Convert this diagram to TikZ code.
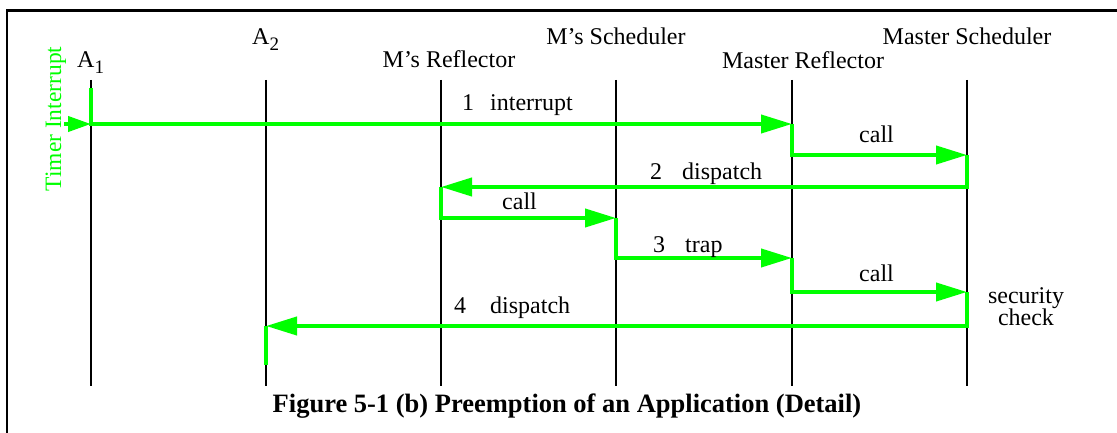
\documentclass[tikz,border=0pt]{standalone}
\usepackage{fontspec}
\setmainfont{Liberation Serif}
\usetikzlibrary{arrows.meta}
\definecolor{msggreen}{RGB}{0,255,0}
\tikzset{
  lbl/.style={inner sep=0pt, anchor=base, font=\fontsize{24}{26}\selectfont},
  lblw/.style={lbl, anchor=base west},
  lifeline/.style={draw=black, line width=2pt},
  msg/.style={draw=msggreen, line width=4pt, line join=miter,
    -{Triangle[length=31pt,width=18pt]}},
  msgplain/.style={draw=msggreen, line width=4pt},
}
\newcommand{\subone}[1]{\raisebox{-6pt}{\fontsize{19}{20}\selectfont #1}}
\begin{document}
\begin{tikzpicture}[x=1pt,y=-1pt]
  \useasboundingbox (0,0) rectangle (1117,433);
  % open frame: only the top and left edges lie inside the page
  \draw[line width=2.5pt] (7.2,440) -- (7.2,10.5) -- (1125,10.5);

  % lifeline positions
  \foreach \n/\x in {a1/91,a2/266,mr/441,ms/616,xr/792,xs/967}{
    \coordinate (\n-top) at (\x,80);
    \coordinate (\n-bot) at (\x,386);
    \draw[lifeline] (\n-top) -- (\n-bot);
  }

  % lifeline titles
  \node[lblw] (t-a1) at (77,68) {A\subone{1}};
  \node[lblw] (t-a2) at (252,45) {A\subone{2}};
  \node[lbl] (t-mr) at (449,68) {M’s Reflector};
  \node[lbl] (t-ms) at (616,45) {M’s Scheduler};
  \node[lbl] (t-xr) at (803,69) {Master Reflector};
  \node[lbl] (t-xs) at (967,45) {Master Scheduler};

  % timer interrupt entering A1
  \node[lbl, rotate=90, text=msggreen, font=\fontsize{23.5}{25}\selectfont]
    (timer) at (61,119) {Timer Interrupt};
  \coordinate (tin) at (64,124);
  \coordinate (p0) at (91,88);
  \coordinate (p1) at (91,124);
  \draw[draw=msggreen, line width=4pt, -{Triangle[length=23pt,width=15pt]}] (tin) -- (p1);

  % message points
  \coordinate (q1) at (792,124);
  \coordinate (q2) at (967,155);
  \coordinate (q3) at (441,187);
  \coordinate (q4) at (616,218);
  \coordinate (q5) at (792,258);
  \coordinate (q6) at (967,292);
  \coordinate (q7) at (266,326);
  \coordinate (q8) at (266,365);

  \draw[msg] (p0) |- (q1);
  \draw[msg] (q1) |- (q2);
  \draw[msg] (q2) |- (q3);
  \draw[msg] (q3) |- (q4);
  \draw[msg] (q4) |- (q5);
  \draw[msg] (q5) |- (q6);
  \draw[msg] (q6) |- (q7);
  \draw[msgplain] (q7) -- (q8);

  % message labels
  \node[lblw] (m1) at (462,111) {1\hspace{16pt}interrupt};
  \node[lblw] (m1c) at (859,143) {call};
  \node[lblw] (m2) at (650,180) {2\hspace{20pt}dispatch};
  \node[lblw] (m2c) at (502,210) {call};
  \node[lblw] (m3) at (653,252) {3\hspace{20pt}trap};
  \node[lblw] (m3c) at (859,281) {call};
  \node[lblw] (m4) at (454,313) {4\hspace{24pt}dispatch};
  \node[lbl] (sec1) at (1026,303) {security};
  \node[lbl] (sec2) at (1026,325) {check};

  % caption
  \node[inner sep=0pt, anchor=base, font=\fontsize{26.5}{28}\selectfont\bfseries]
    (caption) at (567,412) {Figure 5-1 (b) Preemption of an Application (Detail)};
\end{tikzpicture}
\end{document}
